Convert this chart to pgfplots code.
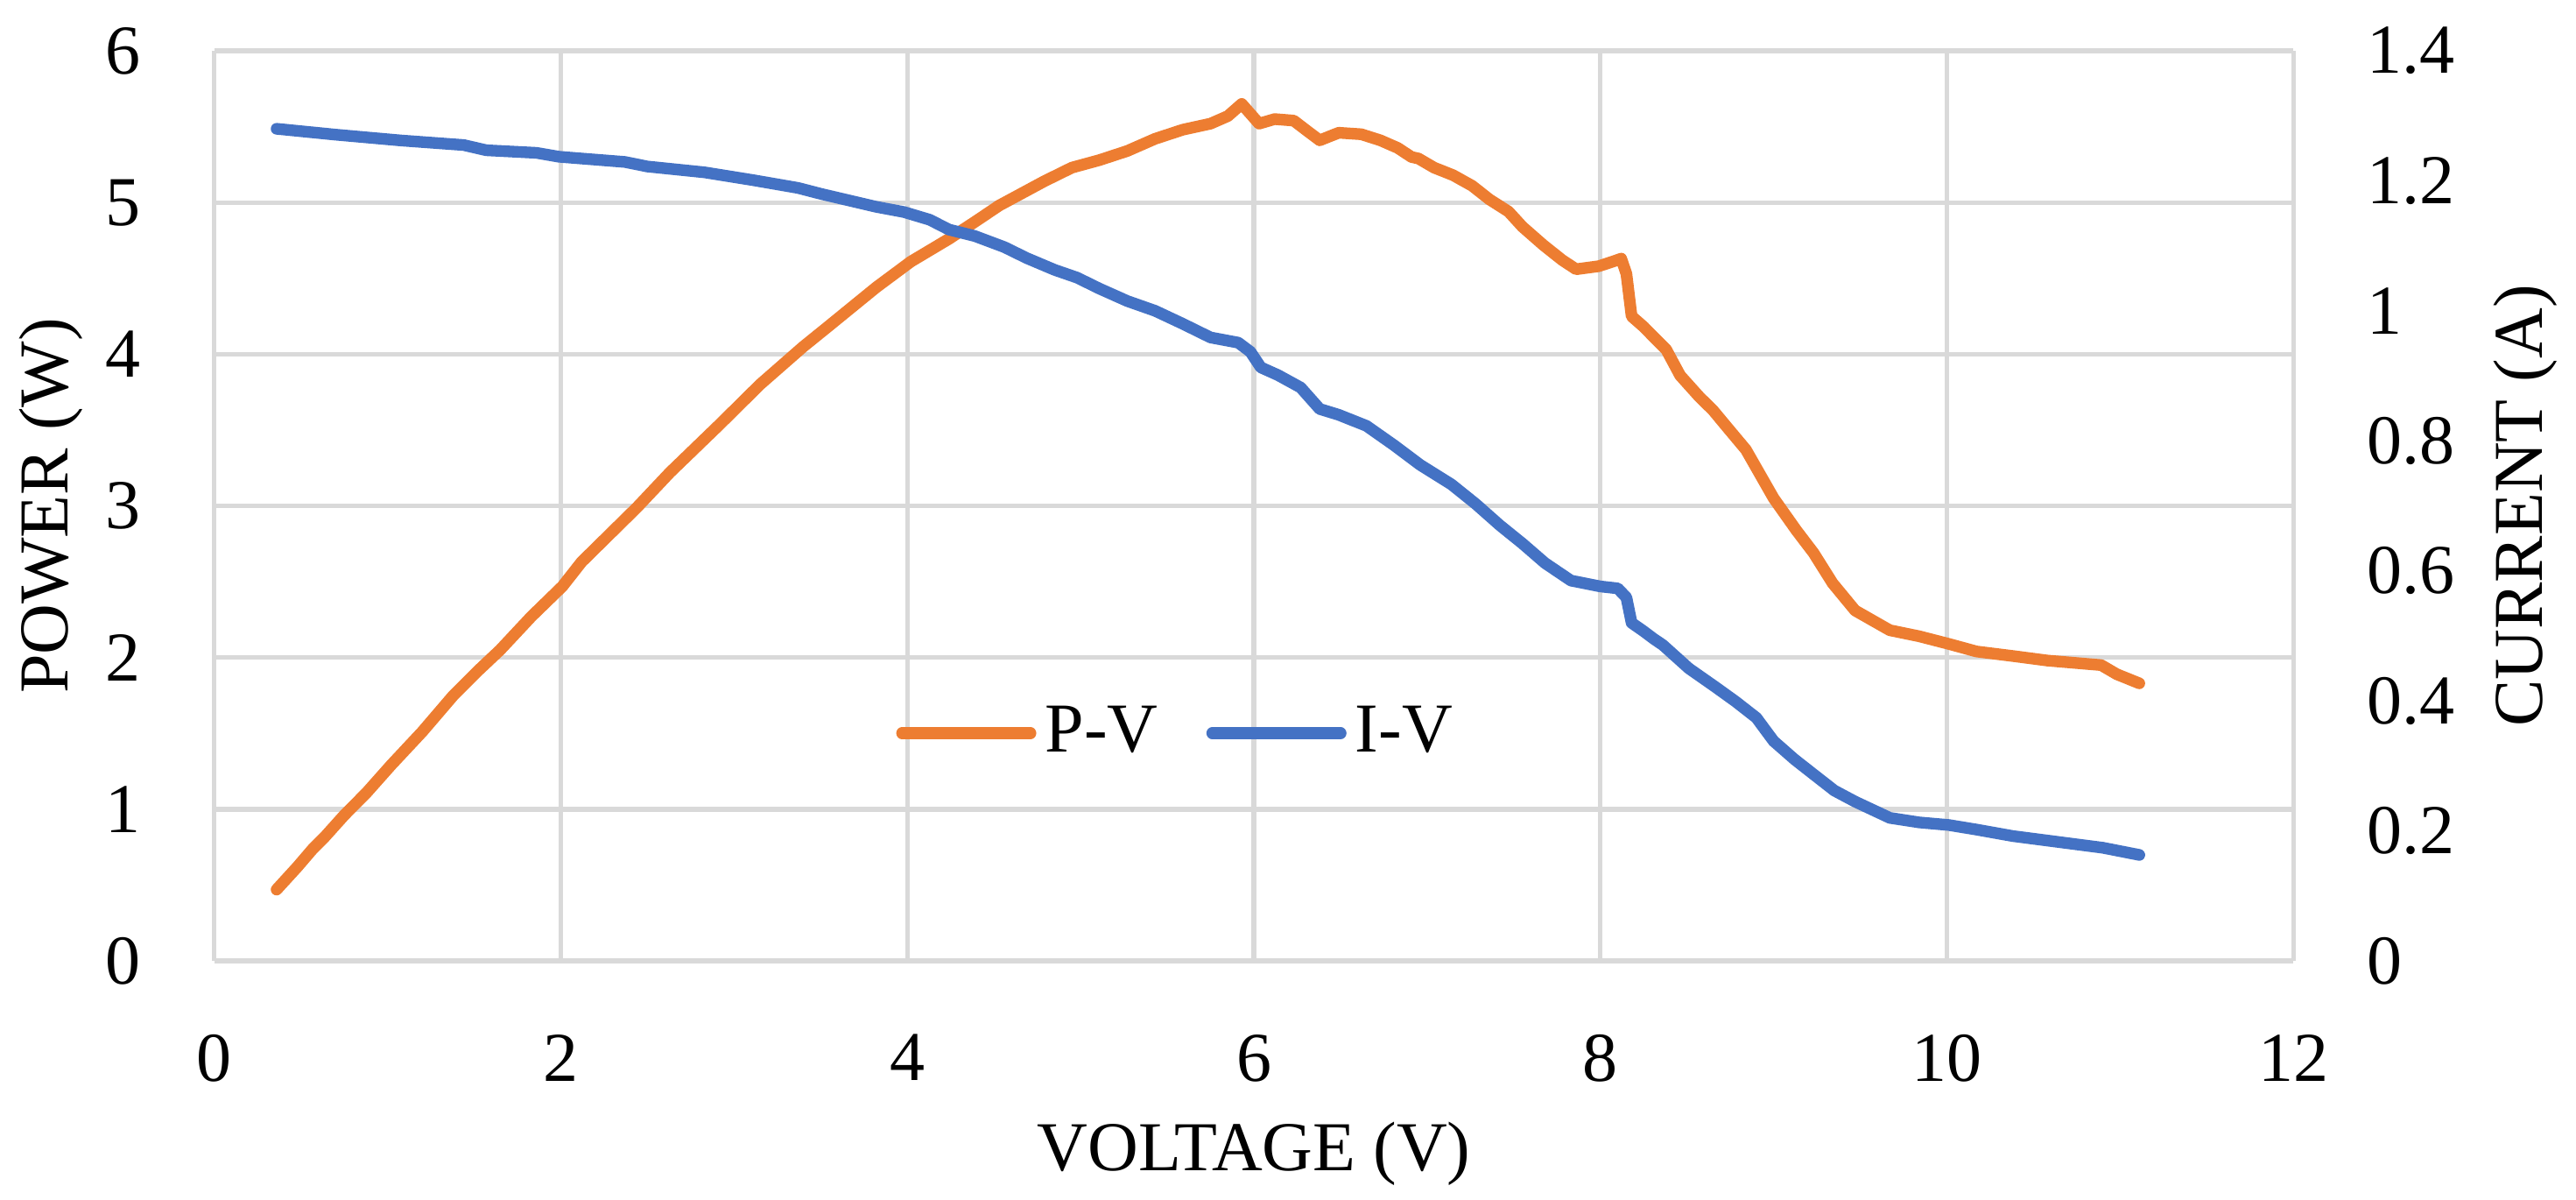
\documentclass[border=0pt]{standalone}
\usepackage{pgfplots}
\pgfplotsset{compat=1.18}
\usepackage{pgfplotstable}
\usepackage{fontspec}
\setmainfont{Liberation Serif}
\definecolor{pvorange}{HTML}{ED7D31}
\definecolor{ivblue}{HTML}{4472C4}
\definecolor{gridgray}{HTML}{D9D9D9}
\newcommand{\chartfont}{\fontsize{12}{14.4}\selectfont}

\pgfplotstableread{
v p
0.36 0.47
0.48 0.62
0.57 0.74
0.64 0.82
0.75 0.96
0.88 1.11
1.02 1.29
1.20 1.51
1.38 1.75
1.52 1.91
1.65 2.05
1.83 2.27
2.01 2.47
2.12 2.63
2.44 2.99
2.63 3.22
2.92 3.54
3.15 3.80
3.40 4.05
3.53 4.17
3.82 4.44
4.02 4.61
4.24 4.76
4.40 4.88
4.53 4.98
4.66 5.06
4.79 5.14
4.95 5.23
5.11 5.28
5.27 5.34
5.43 5.42
5.59 5.48
5.75 5.52
5.85 5.57
5.93 5.65
6.03 5.52
6.12 5.55
6.23 5.54
6.31 5.47
6.38 5.41
6.49 5.46
6.62 5.45
6.73 5.41
6.83 5.36
6.91 5.30
6.95 5.29
7.04 5.23
7.15 5.18
7.26 5.11
7.36 5.02
7.47 4.94
7.55 4.84
7.67 4.72
7.78 4.62
7.86 4.56
7.99 4.58
8.07 4.61
8.12 4.63
8.15 4.53
8.18 4.25
8.25 4.18
8.31 4.11
8.38 4.03
8.46 3.86
8.57 3.72
8.65 3.63
8.73 3.52
8.84 3.37
8.90 3.25
9.00 3.05
9.13 2.84
9.23 2.69
9.34 2.49
9.47 2.31
9.67 2.18
9.84 2.14
10.01 2.09
10.17 2.04
10.38 2.01
10.58 1.98
10.89 1.95
10.98 1.89
11.11 1.83
}\pvdata

\pgfplotstableread{
v i
0.36 1.280
0.70 1.271
1.08 1.262
1.44 1.255
1.57 1.247
1.86 1.243
1.99 1.237
2.37 1.229
2.50 1.222
2.83 1.213
3.11 1.201
3.37 1.189
3.50 1.180
3.82 1.160
3.98 1.152
4.13 1.140
4.24 1.125
4.39 1.115
4.56 1.098
4.69 1.081
4.85 1.063
4.98 1.051
5.11 1.034
5.27 1.015
5.43 1.000
5.59 0.980
5.75 0.959
5.91 0.951
5.98 0.937
6.04 0.913
6.14 0.901
6.27 0.882
6.38 0.849
6.49 0.840
6.65 0.823
6.81 0.793
6.96 0.763
7.14 0.733
7.28 0.703
7.42 0.670
7.55 0.642
7.68 0.612
7.83 0.585
8.00 0.576
8.10 0.573
8.15 0.559
8.18 0.520
8.25 0.507
8.31 0.495
8.36 0.486
8.51 0.450
8.66 0.422
8.78 0.399
8.90 0.374
9.00 0.338
9.12 0.310
9.23 0.287
9.35 0.262
9.47 0.245
9.67 0.220
9.84 0.213
10.01 0.209
10.17 0.202
10.38 0.192
10.64 0.183
10.90 0.174
11.11 0.163
}\ivdata

\begin{document}
\begin{tikzpicture}
\path[use as bounding box] (-36.7pt,-40.95pt) rectangle (404.6pt,164.55pt);
\begin{axis}[
  scale only axis,
  width=356.2pt, height=155.85pt,
  xmin=0, xmax=12, ymin=0, ymax=6,
  xtick={0,2,4,6,8,10,12},
  ytick={0,1,2,3,4,5,6},
  /pgf/number format/assume math mode=true,
  grid=major,
  major grid style={line width=0.8pt, draw=gridgray},
  axis line style={draw=none},
  major tick length=0pt,
  tick label style={font=\chartfont},
  label style={font=\chartfont},
  xticklabel style={anchor=north, inner sep=0pt, yshift=-12.45pt},
  yticklabel style={anchor=east, inner sep=0pt, xshift=-12.4pt},
  xlabel={VOLTAGE (V)},
  xlabel style={at={([yshift=-36pt]rel axis cs:0.5,0)}, anchor=base, inner sep=0pt},
  ylabel={POWER (W)},
  ylabel style={at={([xshift=-25pt]rel axis cs:0,0.5)}, anchor=base, inner sep=0pt},
  legend columns=2,
  legend image code/.code={\draw[#1, line cap=round] (0pt,0pt) -- (22pt,0pt);},
  legend style={draw=none, fill=none, inner sep=0pt, outer sep=0pt,
    at={(rel axis cs:0.328,0.2502)}, anchor=west, font=\chartfont,
    nodes={inner sep=0pt},
    /tikz/every odd column/.append style={column sep=1.5pt},
    /tikz/every even column/.append style={column sep=8.3pt}},
]
\addplot[pvorange, line width=2pt, line cap=round, line join=round] table[x=v, y=p] {\pvdata};
\addlegendentry{P-V}
\addlegendimage{ivblue, line width=2pt, line cap=round}
\addlegendentry{I-V}
\end{axis}
\begin{axis}[
  scale only axis,
  width=356.2pt, height=155.85pt,
  xmin=0, xmax=12, ymin=0, ymax=1.4,
  axis x line=none,
  axis y line*=right,
  ytick={0,0.2,0.4,0.6,0.8,1,1.2,1.4},
  /pgf/number format/assume math mode=true,
  axis line style={draw=none},
  major tick length=0pt,
  tick label style={font=\chartfont},
  label style={font=\chartfont},
  yticklabel style={anchor=west, inner sep=0pt, xshift=12.45pt},
  ylabel={CURRENT (A)},
  ylabel style={at={([xshift=42.6pt]rel axis cs:1,0.5)}, anchor=base, inner sep=0pt},
]
\addplot[ivblue, line width=2pt, line cap=round, line join=round] table[x=v, y=i] {\ivdata};
\end{axis}
\end{tikzpicture}
\end{document}
